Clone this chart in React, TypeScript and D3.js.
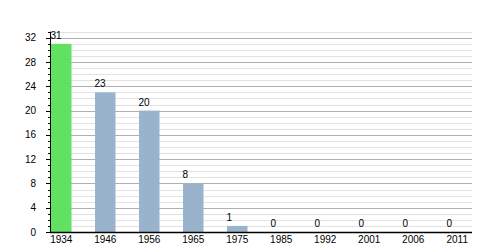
import React from "react";
import * as d3 from "d3";

const years = ["1934", "1946", "1956", "1965", "1975", "1985", "1992", "2001", "2006", "2011"];
const values = [31, 23, 20, 8, 1, 0, 0, 0, 0, 0];
const highlight = [true, false, false, false, false, false, false, false, false, false];
const yMajorTicks = [0, 4, 8, 12, 16, 20, 24, 28, 32];

export default function App() {
  const W = 500, H = 250;
  const left = 50, right = 472, top = 31.7, bottom = 232;
  const y = d3.scaleLinear().domain([0, 33]).range([bottom, top]);
  const x = d3.scaleBand<string>().domain(years).range([51, 467.5]).paddingInner(0.534).paddingOuter(0);
  const minor = d3.range(0, 34);
  const font = "'Liberation Sans', Arial, sans-serif";
  return (
    <svg width={W} height={H} style={{ position: "absolute", left: 0, top: 0 }} fontFamily={font}>
      <rect width={W} height={H} fill="#fff" />
      {minor.filter(v => v % 4 !== 0).map(v => (
        <line key={"m" + v} x1={left} x2={right} y1={Math.round(y(v)) + 0.5} y2={Math.round(y(v)) + 0.5} stroke="#e2e2e2" strokeWidth={1} />
      ))}
      {yMajorTicks.filter(v => v > 0).map(v => (
        <line key={"M" + v} x1={left} x2={right} y1={Math.round(y(v)) + 0.5} y2={Math.round(y(v)) + 0.5} stroke="#b0b0b0" strokeWidth={1} />
      ))}
      {years.map((yr, i) => (
        <rect key={yr} x={x(yr)} width={x.bandwidth()} y={y(values[i])} height={bottom - y(values[i])}
          fill={highlight[i] ? "#62e062" : "#9ab3cd"} />
      ))}
      {years.map((yr, i) => (
        <text key={"l" + yr} x={(x(yr) as number) - 0.5} y={y(values[i]) - 5} fontSize={10} fill="#000">{values[i]}</text>
      ))}
      {/* y axis */}
      <line x1={left + 0.5} x2={left + 0.5} y1={top} y2={bottom} stroke="#000" strokeWidth={1} />
      {minor.map(v => (
        <line key={"t" + v} x1={v % 4 === 0 ? left - 4 : left - 2} x2={left} y1={Math.round(y(v)) + 0.5} y2={Math.round(y(v)) + 0.5} stroke="#000" strokeWidth={1} />
      ))}
      {yMajorTicks.map(v => (
        <text key={"yl" + v} x={36} y={y(v)} dy="0.35em" textAnchor="end" fontSize={10} fill="#000">{v}</text>
      ))}
      {/* x axis */}
      <line x1={left} x2={right} y1={bottom + 0.5} y2={bottom + 0.5} stroke="#000" strokeWidth={1.3} />
      {years.map(yr => (
        <text key={"xl" + yr} x={(x(yr) as number) + x.bandwidth() / 2} y={243.3} textAnchor="middle" fontSize={10} fill="#000">{yr}</text>
      ))}
    </svg>
  );
}
